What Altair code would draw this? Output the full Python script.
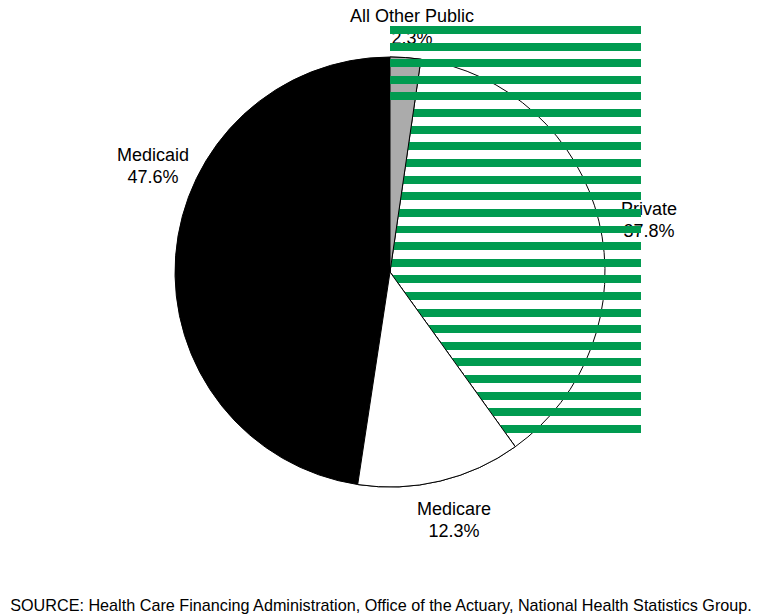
import altair as alt
import pandas as pd

# ---- data ----
categories = ["All Other Public", "Private", "Medicare", "Medicaid"]
shares = [2.3, 37.8, 12.3, 47.6]
slice_order = [0, 1, 2, 3]
source_note = "SOURCE: Health Care Financing Administration, Office of the Actuary, National Health Statistics Group."

df = pd.DataFrame({"category": categories, "value": shares, "order": slice_order})

# ---- layout / style ----
W, H = 746, 599
CX, CY, R = 382, 262, 215
FONT = "Liberation Sans"
fill_colors = ["#ABABAB", "#FFFFFF", "#FFFFFF", "#000000"]
GREEN = "#009B50"

LABEL_XY = {
    "All Other Public": (404, 12),
    "Private": (641, 205),
    "Medicare": (446, 505),
    "Medicaid": (145, 151),
}

base = (
    alt.Chart(df)
    .transform_window(cum="sum(value)", sort=[alt.SortField("order")], frame=[None, 0])
    .transform_joinaggregate(total="sum(value)")
    .transform_calculate(
        t0="2*PI*(datum.cum-datum.value)/datum.total",
        t1="2*PI*datum.cum/datum.total",
        label="datum.category + '\\n' + format(datum.value, '.1f') + '%'",
    )
)

fill_enc = alt.Fill(
    "category:N",
    scale=alt.Scale(domain=categories, range=fill_colors),
    legend=None,
)


def arcs(filter_cat=None):
    b = base
    if filter_cat is not None:
        b = b.transform_filter(alt.datum.category == filter_cat)
    return b.mark_arc(outerRadius=R, stroke="black", strokeWidth=1).encode(
        theta=alt.Theta("t0:Q", scale=None),
        theta2="t1:Q",
        fill=fill_enc,
        x=alt.value(CX),
        y=alt.value(CY),
    )


def stripe_gradient(n, thick, period, h):
    stops = []
    clear = "rgba(255,255,255,0)"
    for k in range(n):
        a = k * period / h
        b = min((k * period + thick) / h, 1.0)
        stops += [
            alt.GradientStop(color=clear, offset=a),
            alt.GradientStop(color=GREEN, offset=a),
            alt.GradientStop(color=GREEN, offset=b),
            alt.GradientStop(color=clear, offset=b),
        ]
    return alt.LinearGradient(gradient="linear", stops=stops, x1=0, x2=0, y1=0, y2=1)


STRIPE_TOP, STRIPE_BOT = 16, 423
STRIPE_L, STRIPE_R = 382.5, 632.7
PERIOD, THICK = 16.625, 8

stripes_all = alt.Chart(df).mark_rect(
    fill=stripe_gradient(25, THICK, PERIOD, STRIPE_BOT - STRIPE_TOP)
).encode(
    x=alt.value(STRIPE_L), x2=alt.value(STRIPE_R),
    y=alt.value(STRIPE_TOP), y2=alt.value(STRIPE_BOT),
)

top_h = 4 * PERIOD + THICK
stripes_top = alt.Chart(df).mark_rect(
    fill=stripe_gradient(5, THICK, PERIOD, top_h)
).encode(
    x=alt.value(STRIPE_L), x2=alt.value(STRIPE_R),
    y=alt.value(STRIPE_TOP), y2=alt.value(STRIPE_TOP + top_h),
)

label_layers = []
for cat in categories:
    lx, ly = LABEL_XY[cat]
    label_layers.append(
        base.transform_filter(alt.datum.category == cat)
        .mark_text(
            font=FONT, fontSize=18, align="center", baseline="alphabetic",
            lineBreak="\n", lineHeight=21.5, color="black",
        )
        .encode(text="label:N", x=alt.value(lx), y=alt.value(ly))
    )

source = alt.Chart(pd.DataFrame({"t": [source_note]})).mark_text(
    font=FONT, fontSize=16.2, align="center", baseline="alphabetic", color="black"
).encode(text="t:N", x=alt.value(W / 2), y=alt.value(601))

chart = alt.layer(
    arcs(),
    *label_layers,
    stripes_all,
    arcs("Medicare"),
    arcs("All Other Public"),
    stripes_top,
    source,
).properties(width=W, height=H, padding=0, background="white").configure_view(stroke=None)

chart.save("out.html", embed_options={"renderer": "svg", "actions": False})
